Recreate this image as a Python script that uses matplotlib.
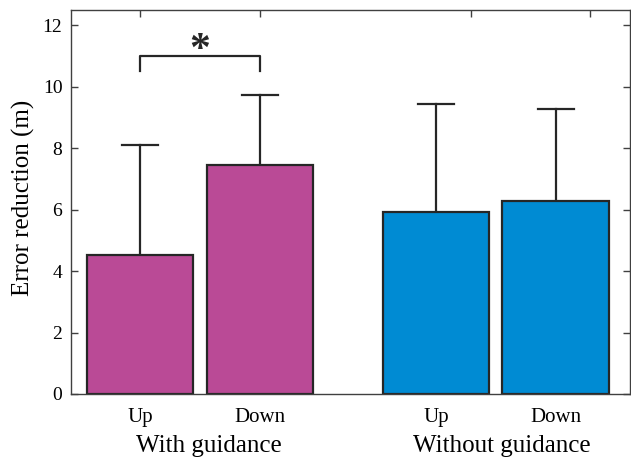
import numpy as np
import matplotlib
matplotlib.use('Agg')
from matplotlib import pyplot as plt

plt.rcParams['font.family'] = 'Liberation Serif'

conditions = ['Up', 'Down', 'Up', 'Down']
groups = ['With guidance', 'Without guidance']
means = [4.52, 7.45, 5.94, 6.28]
errs = [3.60, 2.28, 3.50, 2.99]
colors = ['#BA4A96', '#BA4A96', '#008BD3', '#008BD3']
xpos = [1, 2, 3.47, 4.47]
top_ticks = [1, 2, 3.76, 4.76]

fig = plt.figure(figsize=(6.31, 4.58), dpi=100)
ax = fig.add_axes([70.7/631, 1-394/458, (630-70.7)/631, (394-10)/458])

ax.bar(xpos, means, width=0.89, color=colors, edgecolor='#262626', linewidth=1.6, zorder=2)
# upper error bars only
for x, m, e in zip(xpos, means, errs):
    ax.plot([x, x], [m, m + e], color='#262626', lw=1.6, zorder=1)
    ax.plot([x - 0.15, x + 0.15], [m + e, m + e], color='#262626', lw=1.6, zorder=1)

# significance bracket
ax.plot([xpos[0], xpos[0], xpos[1], xpos[1]], [10.52, 11.01, 11.01, 10.52],
        color='#262626', lw=1.6)
ax.text((xpos[0] + xpos[1]) / 2, 10.83, '*', ha='center', va='baseline',
        fontsize=30, fontweight='bold', color='#262626')

ax.set_xlim(0.42, 5.09)
ax.set_ylim(0, 12.5)
ax.set_yticks(np.arange(0, 13, 2))
ax.set_xticks(xpos)
ax.set_xticklabels(conditions, fontsize=15)
ax.tick_params(axis='y', labelsize=14)
ax.tick_params(direction='in', length=5, color='#404040', right=True, width=1, pad=6)
ax.tick_params(axis='x', pad=10)
for s in ax.spines.values():
    s.set_color('#404040')
    s.set_linewidth(1)

sec = ax.secondary_xaxis('top')
sec.set_xticks(top_ticks)
sec.set_xticklabels([])
sec.tick_params(direction='in', length=5, color='#404040', width=1)
sec.spines['top'].set_visible(False)

ax.set_ylabel('Error reduction (m)', fontsize=18)
ax.yaxis.set_label_coords(-0.063, 0.51)

centers = [(xpos[0] + xpos[1]) / 2 + 0.07, (xpos[2] + xpos[3]) / 2 + 0.05]
for c, g in zip(centers, groups):
    ax.text(c, -0.136, g, transform=ax.get_xaxis_transform(), ha='center', va='center', fontsize=18)

plt.savefig('out.png', dpi=100)
